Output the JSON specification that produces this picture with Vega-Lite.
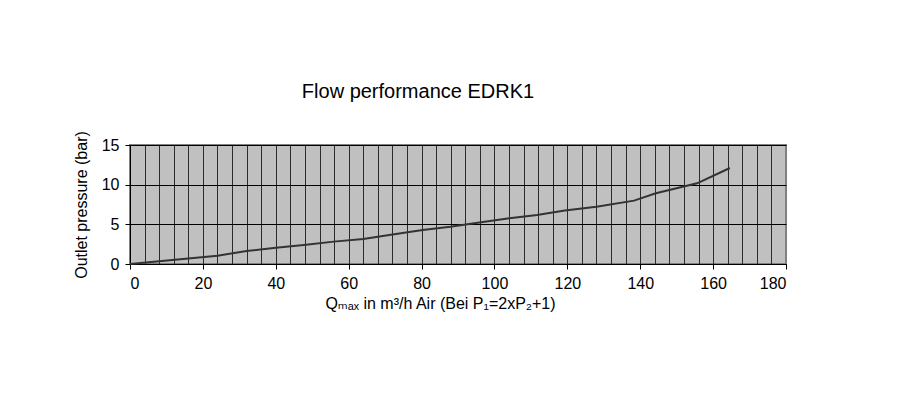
{
  "$schema": "https://vega.github.io/schema/vega-lite/v6.json",
  "width": 656,
  "height": 119,
  "autosize": {"type": "none"},
  "padding": {"left": 130, "top": 145, "right": 132, "bottom": 141},
  "background": "white",
  "title": {
    "text": "Flow performance EDRK1",
    "font": "Liberation Sans",
    "fontSize": 20,
    "fontWeight": "normal",
    "color": "black",
    "anchor": "middle",
    "dx": -40,
    "offset": 26
  },
  "config": {
    "view": {"fill": "#c0c0c0", "stroke": "#808080", "strokeWidth": 2},
    "axis": {
      "labelFont": "Liberation Sans",
      "titleFont": "Liberation Sans, DejaVu Sans",
      "labelFontSize": 16,
      "titleFontSize": 16,
      "titleFontWeight": "normal",
      "labelColor": "black",
      "titleColor": "black",
      "domainColor": "black",
      "tickColor": "black",
      "labelOverlap": false
    }
  },
  "data": {
    "values": [
      {"q": 0, "p": 0},
      {"q": 24, "p": 1.05},
      {"q": 32, "p": 1.64},
      {"q": 40, "p": 2.06},
      {"q": 47.7, "p": 2.4},
      {"q": 55.9, "p": 2.82},
      {"q": 64, "p": 3.15},
      {"q": 71.6, "p": 3.7},
      {"q": 80.3, "p": 4.29},
      {"q": 87.9, "p": 4.71},
      {"q": 95.4, "p": 5.21},
      {"q": 104.1, "p": 5.76},
      {"q": 111.7, "p": 6.18},
      {"q": 119.3, "p": 6.73},
      {"q": 128, "p": 7.23},
      {"q": 138.3, "p": 7.99},
      {"q": 144.3, "p": 8.91},
      {"q": 155.6, "p": 10.17},
      {"q": 164.6, "p": 12.1}
    ]
  },
  "layer": [
    {
      "mark": {"type": "line", "strokeOpacity": 0},
      "encoding": {
        "x": {
          "field": "q", "type": "quantitative",
          "scale": {"domain": [0, 180], "nice": false, "zero": true},
          "axis": {
            "orient": "bottom",
            "values": [4,8,12,16,20,24,28,32,36,40,44,48,52,56,60,64,68,72,76,80,84,88,92,96,100,104,108,112,116,120,124,128,132,136,140,144,148,152,156,160,164,168,172,176],
            "grid": true, "gridColor": "#2a2a2a", "gridWidth": 1, "gridOpacity": 1,
            "labels": false, "ticks": false, "domain": false, "title": null
          }
        },
        "y": {
          "field": "p", "type": "quantitative",
          "scale": {"domain": [0, 15], "nice": false},
          "axis": {
            "values": [0, 5, 10, 15],
            "grid": true, "gridColor": "black", "gridWidth": 1, "gridOpacity": 1,
            "tickSize": 5, "labelPadding": 6,
            "title": "Outlet pressure  (bar)", "titlePadding": 12
          }
        }
      }
    },
    {
      "mark": {"type": "line", "color": "#333333", "strokeWidth": 2},
      "encoding": {
        "x": {
          "field": "q", "type": "quantitative",
          "axis": {
            "orient": "bottom",
            "values": [0, 20, 40, 60, 80, 100, 120, 140, 160, 180],
            "grid": false, "tickSize": 5, "labelPadding": 6,
            "title": "Qₘₐₓ in m³/h Air (Bei P₁=2xP₂+1)", "titlePadding": 4,
            "titleX": 310
          }
        },
        "y": {
          "field": "p", "type": "quantitative",
          "axis": {
            "values": [0, 5, 10, 15],
            "grid": true, "gridColor": "black", "gridWidth": 1, "gridOpacity": 1,
            "tickSize": 5, "labelPadding": 6,
            "title": "Outlet pressure  (bar)", "titlePadding": 12
          }
        }
      }
    }
  ],
  "resolve": {"axis": {"x": "independent"}}
}
